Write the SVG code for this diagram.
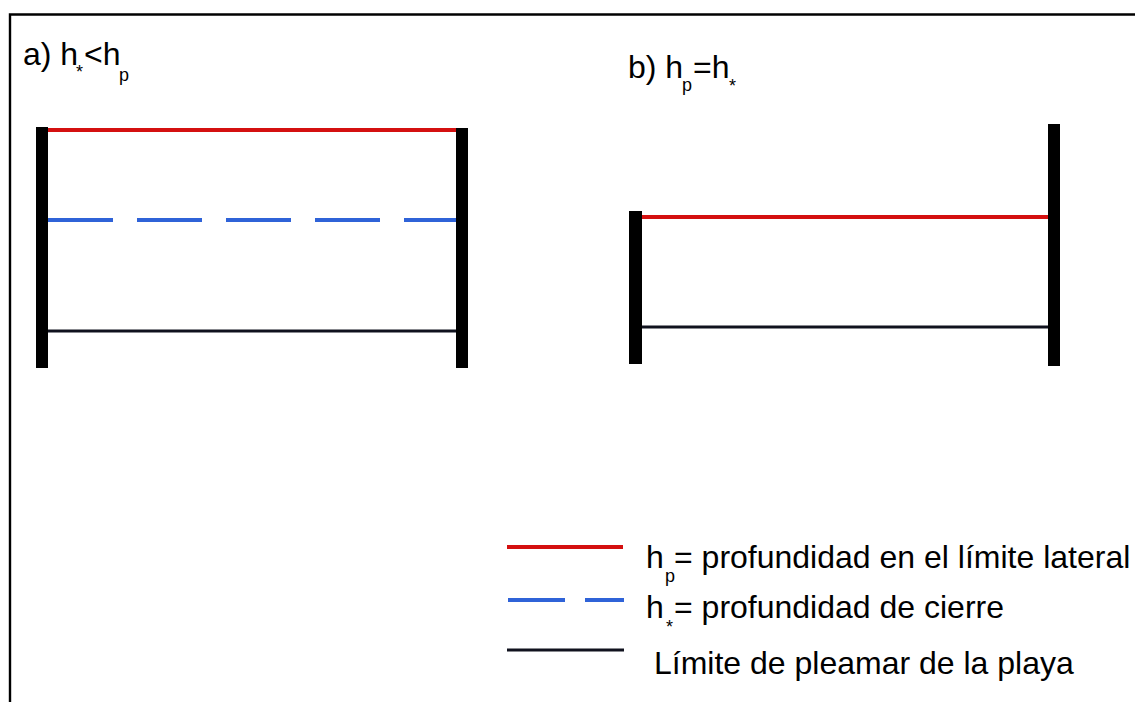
<svg xmlns="http://www.w3.org/2000/svg" width="1135" height="702" viewBox="0 0 1135 702">
<style>
text{font-family:"Liberation Sans",Arial,sans-serif;font-size:32px;fill:#000}
.sub{font-size:18px}
.post{fill:#000}
.red{stroke:#d41010;stroke-width:4;fill:none}
.blue{stroke:#2f63d8;stroke-width:4;fill:none}
.dark{stroke:#10121e;stroke-width:3;fill:none}
.frame{stroke:#000;stroke-width:2.4;fill:none}
</style>
<rect width="1135" height="702" fill="#fff"/>
<g id="frame">
<polyline class="frame" points="10,702 10,14.5 1135,14.5"/>
</g>
<g id="panel-a">
<text x="23" y="65">a) h</text>
<text class="sub" x="76" y="78">*</text>
<text x="84" y="65">&lt;h</text>
<text class="sub" x="119" y="81">p</text>
</g>
<g id="panel-b">
<text x="628" y="78">b) h</text>
<text class="sub" x="682" y="91">p</text>
<text x="693" y="78">=h</text>
<text class="sub" x="729" y="92">*</text>
</g>
<g id="connectors">
<line class="red" x1="48" y1="130" x2="456" y2="130"/>
<line class="blue" x1="48" y1="220" x2="456" y2="220" stroke-dasharray="65 24"/>
<line class="dark" x1="48" y1="331" x2="456" y2="331"/>
<line class="red" x1="642" y1="217" x2="1048" y2="217"/>
<line class="dark" x1="642" y1="327" x2="1048" y2="327"/>
</g>
<g id="posts">
<rect class="post" x="36" y="127" width="12" height="241"/>
<rect class="post" x="456" y="128" width="12" height="240"/>
<rect class="post" x="629" y="211" width="13" height="153"/>
<rect class="post" x="1048" y="124" width="12" height="242"/>
</g>
<g id="legend">
<line class="red" x1="507" y1="547" x2="623" y2="547"/>
<line class="blue" x1="508" y1="600" x2="565" y2="600"/>
<line class="blue" x1="585" y1="600" x2="624" y2="600"/>
<line class="dark" x1="507" y1="650" x2="624" y2="650"/>
<text x="646" y="568">h</text>
<text class="sub" x="665" y="582">p</text>
<text x="674" y="568">= profundidad en el límite lateral</text>
<text x="646" y="618">h</text>
<text class="sub" x="666" y="633">*</text>
<text x="674" y="618">= profundidad de cierre</text>
<text x="654" y="674">Límite de pleamar de la playa</text>
</g>
</svg>
